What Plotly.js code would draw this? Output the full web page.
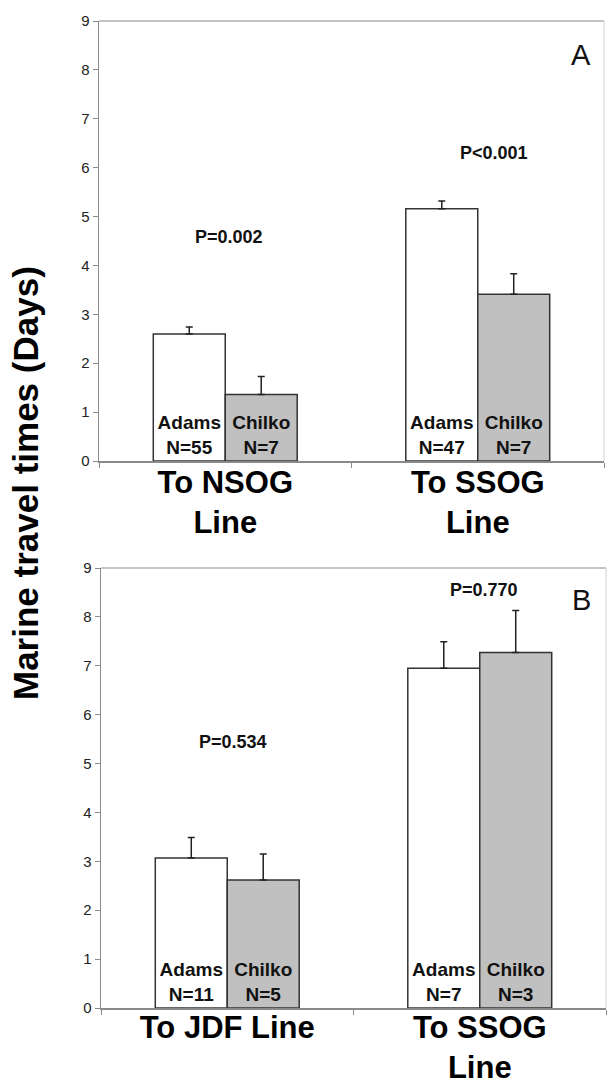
<!DOCTYPE html>
<html>
<head>
<meta charset="utf-8">
<script src="https://cdn.plot.ly/plotly-3.0.1.min.js"></script>
<style>html,body{margin:0;padding:0;background:#fff;}#chart{width:608px;height:1080px;}</style>
</head>
<body>
<div id="chart"></div>
<script>
// Panel A
const catsA = ["To NSOG<br>Line", "To SSOG<br>Line"];
const adamsA = [2.60, 5.16];
const adamsErrA = [0.14, 0.16];
const adamsNA = [55, 47];
const chilkoA = [1.36, 3.41];
const chilkoErrA = [0.37, 0.42];
const chilkoNA = [7, 7];
const pLabelsA = ["P=0.002", "P<0.001"];

// Panel B
const catsB = ["To JDF Line", "To SSOG<br>Line"];
const adamsB = [3.07, 6.95];
const adamsErrB = [0.42, 0.54];
const adamsNB = [11, 7];
const chilkoB = [2.62, 7.27];
const chilkoErrB = [0.53, 0.86];
const chilkoNB = [5, 3];
const pLabelsB = ["P=0.534", "P=0.770"];

const yTicks = [0,1,2,3,4,5,6,7,8,9];
const yTitle = "Marine travel times (Days)";

const FONT = "Liberation Sans, Arial, sans-serif";
const lineCol = "#333";

function barTrace(cats, vals, errs, name, ns, fill, xa, ya) {
  return {
    type: "bar", x: cats, y: vals, name: name, xaxis: xa, yaxis: ya,
    marker: {color: fill, line: {color: lineCol, width: 1.5}},
    error_y: {type: "data", symmetric: false, array: errs, arrayminus: vals.map(() => 0),
              color: "#222", thickness: 1.5, width: 3.5},
    text: ns.map(n => name + "<br>N=" + n),
    textposition: "inside", insidetextanchor: "start", constraintext: "none",
    textfont: {family: FONT, size: 19, color: "#111", weight: "bold"},
    textangle: 0,
    hoverinfo: "skip", cliponaxis: false
  };
}

const data = [
  barTrace(catsA, adamsA, adamsErrA, "Adams", adamsNA, "#ffffff", "x", "y"),
  barTrace(catsA, chilkoA, chilkoErrA, "Chilko", chilkoNA, "#c0c0c0", "x", "y"),
  barTrace(catsB, adamsB, adamsErrB, "Adams", adamsNB, "#ffffff", "x2", "y2"),
  barTrace(catsB, chilkoB, chilkoErrB, "Chilko", chilkoNB, "#c0c0c0", "x2", "y2")
];

function xAxis(domain, anchor, standoff) {
  return {
    domain: domain, anchor: anchor, type: "category",
    showline: true, linecolor: "#8a8a8a", linewidth: 1.5, mirror: false,
    ticks: "outside", ticklen: 5, tickcolor: "#8a8a8a", tickson: "boundaries",
    ticklabelstandoff: standoff,
    tickfont: {family: FONT, size: 31, color: "#000", weight: "bold"},
    showgrid: false, zeroline: false, fixedrange: true
  };
}
function yAxis(domain, anchor) {
  return {
    domain: domain, anchor: anchor, range: [0, 9],
    tickvals: yTicks, ticktext: yTicks.map(String),
    showline: true, linecolor: "#8a8a8a", linewidth: 1.5,
    ticks: "outside", ticklen: 5, tickcolor: "#8a8a8a",
    tickfont: {family: FONT, size: 15, color: "#222"},
    showgrid: false, zeroline: false, fixedrange: true
  };
}

const pFont = {family: FONT, size: 18, color: "#111", weight: "bold"};
const layout = {
  width: 608, height: 1080,
  margin: {l: 0, r: 0, t: 0, b: 0},
  paper_bgcolor: "#fff", plot_bgcolor: "#fff",
  showlegend: false,
  barmode: "group", bargap: 0.43, bargroupgap: 0,
  xaxis: xAxis([99/608, 604/608], "y", -7),
  yaxis: yAxis([(1080-461)/1080, (1080-21)/1080], "x"),
  xaxis2: xAxis([101/608, 606/608], "y2", -9),
  yaxis2: yAxis([(1080-1008)/1080, (1080-568)/1080], "x2"),
  shapes: [
    {type: "line", xref: "x domain", yref: "y domain", x0: 0, x1: 1, y0: 1, y1: 1, line: {color: "#b0b0b0", width: 1.5}},
    {type: "line", xref: "x domain", yref: "y domain", x0: 1, x1: 1, y0: 0, y1: 1, line: {color: "#d0d0d0", width: 1}},
    {type: "line", xref: "x2 domain", yref: "y2 domain", x0: 0, x1: 1, y0: 1, y1: 1, line: {color: "#b0b0b0", width: 1.5}},
    {type: "line", xref: "x2 domain", yref: "y2 domain", x0: 1, x1: 1, y0: 0, y1: 1, line: {color: "#d0d0d0", width: 1}}
  ],
  annotations: [
    {xref: "paper", yref: "y", x: 229/608, y: 4.58, xanchor: "center", yanchor: "middle", text: pLabelsA[0], showarrow: false, font: pFont},
    {xref: "paper", yref: "y", x: 494/608, y: 6.3, xanchor: "center", yanchor: "middle", text: pLabelsA[1], showarrow: false, font: pFont},
    {xref: "paper", yref: "y2", x: 233/608, y: 5.45, xanchor: "center", yanchor: "middle", text: pLabelsB[0], showarrow: false, font: pFont},
    {xref: "paper", yref: "y2", x: 484/608, y: 8.55, xanchor: "center", yanchor: "middle", text: pLabelsB[1], showarrow: false, font: pFont},
    {xref: "paper", yref: "y", x: 581/608, y: 8.3, xanchor: "center", yanchor: "middle", text: "A", showarrow: false,
     font: {family: FONT, size: 29, color: "#111"}},
    {xref: "paper", yref: "y2", x: 581/608, y: 8.35, xanchor: "center", yanchor: "middle", text: "B", showarrow: false,
     font: {family: FONT, size: 29, color: "#111"}},
    {xref: "paper", yref: "paper", x: 26/608, y: (1080-483)/1080, xanchor: "center", yanchor: "middle",
     text: yTitle, textangle: -90, showarrow: false,
     font: {family: FONT, size: 35, color: "#000", weight: "bold"}}
  ]
};

Plotly.newPlot("chart", data, layout, {staticPlot: true, displayModeBar: false});
</script>
</body>
</html>
